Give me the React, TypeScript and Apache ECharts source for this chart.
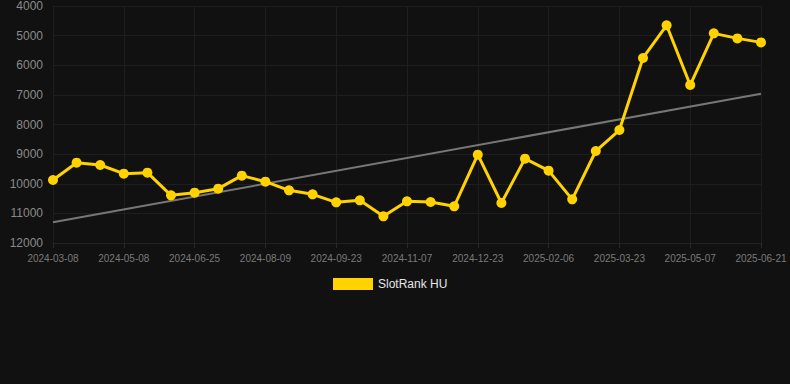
import React, { useEffect, useRef } from "react";
import * as echarts from "echarts";

const categories: string[] = [
  "2024-03-08", "2024-03-29", "2024-04-18", "2024-05-08", "2024-05-24", "2024-06-09",
  "2024-06-25", "2024-07-10", "2024-07-25", "2024-08-09", "2024-08-24", "2024-09-08",
  "2024-09-23", "2024-10-08", "2024-10-23", "2024-11-07", "2024-11-22", "2024-12-08",
  "2024-12-23", "2025-01-07", "2025-01-22", "2025-02-06", "2025-02-21", "2025-03-08",
  "2025-03-23", "2025-04-07", "2025-04-22", "2025-05-07", "2025-05-22", "2025-06-06",
  "2025-06-21",
];

const rankValues: number[] = [
  9873, 9289, 9367, 9660, 9626, 10391, 10301, 10166, 9727, 9930,
  10222, 10357, 10627, 10560, 11100, 10593, 10616, 10762, 9018, 10650,
  9153, 9558, 10526, 8895, 8186, 5755, 4652, 6667, 4924, 5093, 5228,
];

// trend line values at the first and last category
const trendEnds: number[] = [11300, 6960];

const seriesName = "SlotRank HU";

export default function App() {
  const ref = useRef<HTMLDivElement>(null);
  useEffect(() => {
    document.body.style.margin = "0";
    document.body.style.background = "#111111";
    if (!ref.current) return;
    const chart = echarts.init(ref.current, null, { renderer: "svg" });
    const trendData = categories.map((_, i) =>
      i === 0 ? trendEnds[0] : i === categories.length - 1 ? trendEnds[1] : null
    );
    chart.setOption({
      animation: false,
      backgroundColor: "#111111",
      grid: { left: 53, right: 29, top: 6, bottom: 141 },
      legend: {
        data: [seriesName],
        top: 273,
        left: 328,
        icon: "rect",
        itemWidth: 40,
        itemHeight: 12,
        itemGap: 10,
        textStyle: { color: "#e6e6e6", fontSize: 12, fontFamily: "Liberation Sans, Arial, sans-serif" },
      },
      xAxis: {
        type: "category",
        data: categories,
        boundaryGap: false,
        axisLine: { show: true, lineStyle: { color: "#222" } },
        axisTick: { show: true, interval: 2, lineStyle: { color: "#2a2a2a" } },
        axisLabel: {
          interval: 2,
          color: "#7a7a7a",
          fontSize: 10,
          margin: 10,
          fontFamily: "Liberation Sans, Arial, sans-serif",
        },
        splitLine: { show: true, interval: 2, lineStyle: { color: "#1e1e1e", width: 1 } },
      },
      yAxis: {
        type: "value",
        inverse: true,
        min: 4000,
        max: 12000,
        interval: 1000,
        axisLine: { show: false },
        axisTick: { show: false },
        axisLabel: {
          color: "#8a8a8a",
          fontSize: 12,
          margin: 10,
          formatter: (v: number) => String(v),
          fontFamily: "Liberation Sans, Arial, sans-serif",
        },
        splitLine: { show: true, lineStyle: { color: "#1e1e1e", width: 1 } },
      },
      series: [
        {
          name: "trend",
          type: "line",
          data: trendData,
          connectNulls: true,
          showSymbol: false,
          symbol: "none",
          silent: true,
          lineStyle: { color: "#777777", width: 2 },
          z: 1,
        },
        {
          name: seriesName,
          type: "line",
          data: rankValues,
          symbol: "circle",
          symbolSize: 10,
          itemStyle: { color: "#ffd200" },
          lineStyle: { color: "#ffd200", width: 3 },
          z: 2,
        },
      ],
    });
    return () => chart.dispose();
  }, []);
  return <div ref={ref} style={{ width: 790, height: 384 }} />;
}
